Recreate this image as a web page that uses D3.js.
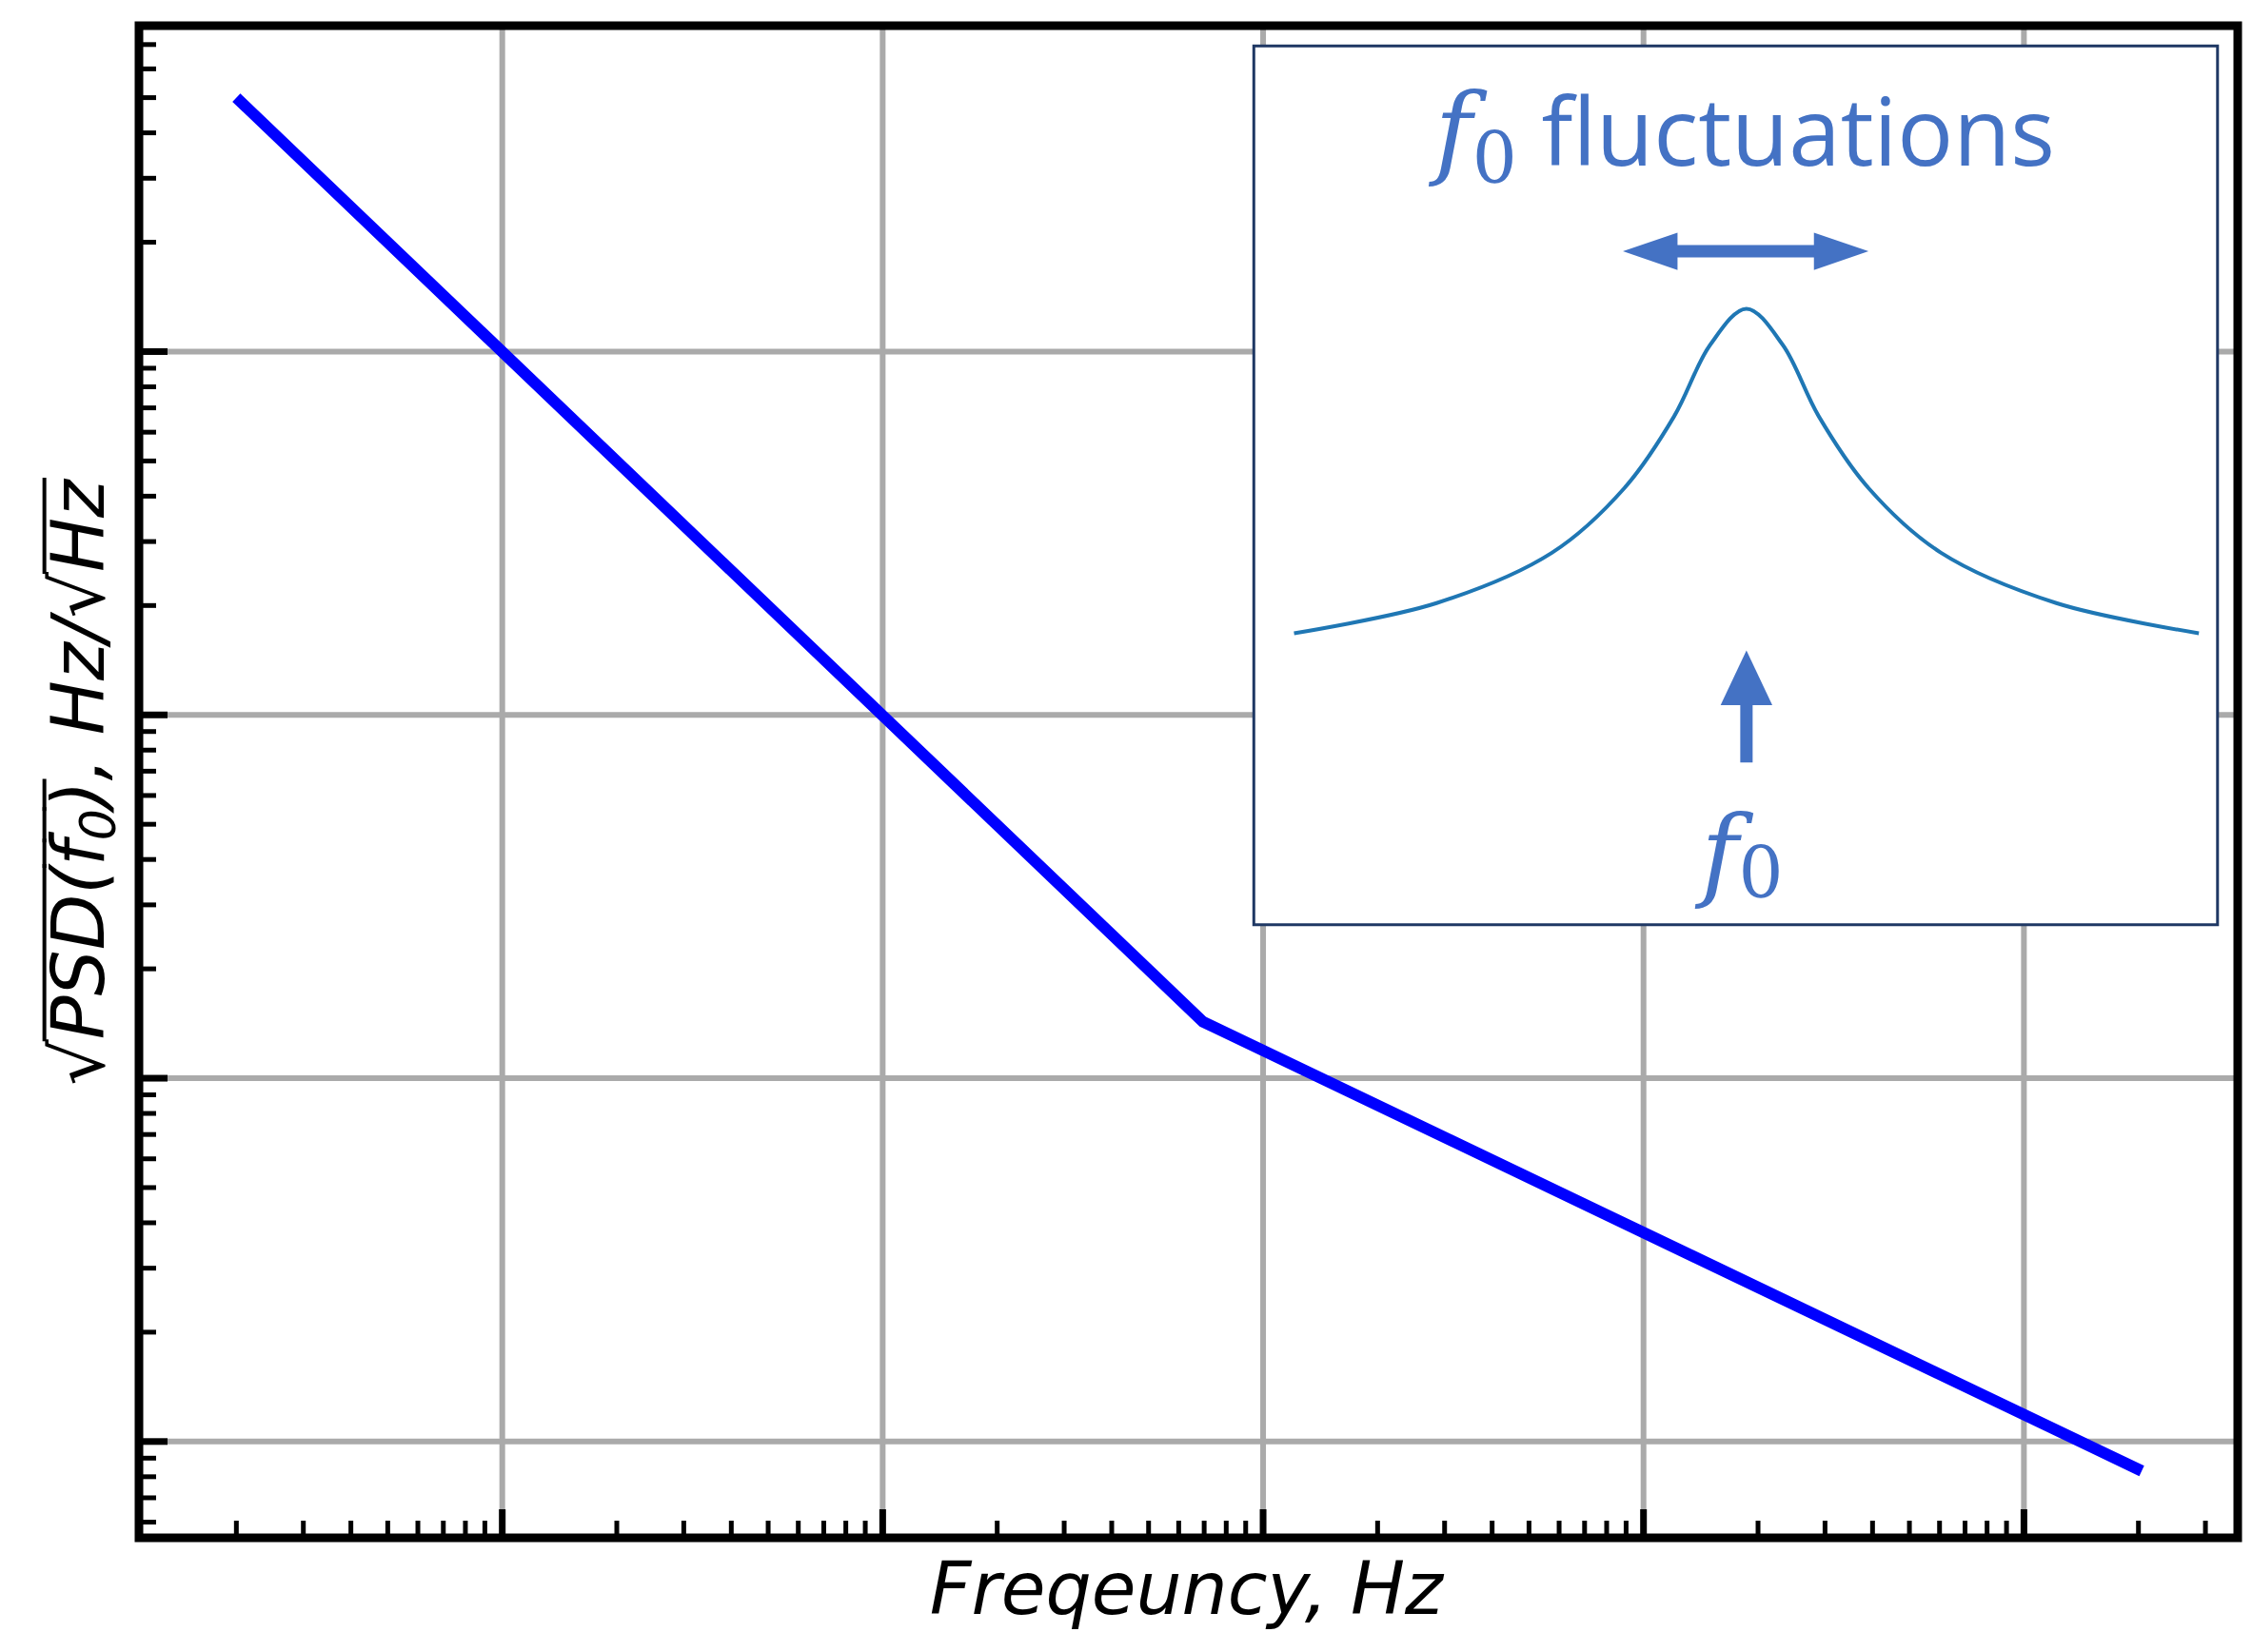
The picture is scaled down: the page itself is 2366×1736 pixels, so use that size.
<!DOCTYPE html>
<html><head><meta charset="utf-8">
<script src="https://cdn.jsdelivr.net/npm/d3@7"></script>
<style>body{margin:0;background:#fff}</style></head>
<body><svg id="c" width="2366" height="1736"></svg>
<script>
// Main series (log-log)
const freq = [0.2, 69.5, 20400];
const psd = [5000, 14.3, 0.83];
const xGrid = [1, 10, 100, 1000, 10000];
const yGrid = [1, 10, 100, 1000];
// Inset illustrative peak (relative units)
const insetX = [-1, -0.685, -0.43, -0.27, -0.16, -0.08, 0, 0.08, 0.16, 0.27, 0.43, 0.685, 1];
const insetY = [0.0, 0.093, 0.248, 0.447, 0.668, 0.889, 1.0, 0.889, 0.668, 0.447, 0.248, 0.093, 0.0];

const svg = d3.select("#c");
const L=146, R=2351, T=27, B=1616, k=2366/1568;
const x = d3.scaleLog().domain([Math.pow(10,-0.955), Math.pow(10,4.562)]).range([L,R]);
const y = d3.scaleLog().domain([Math.pow(10,-0.265), Math.pow(10,3.897)]).range([B,T]);

svg.selectAll(".gx").data(xGrid).join("line").attr("x1",d=>x(d)).attr("x2",d=>x(d)).attr("y1",T).attr("y2",B).attr("stroke","#aaa").attr("stroke-width",6);
svg.selectAll(".gy").data(yGrid).join("line").attr("y1",d=>y(d)).attr("y2",d=>y(d)).attr("x1",L).attr("x2",R).attr("stroke","#aaa").attr("stroke-width",6);

const xt=[], yt=[];
for(let e=-1;e<=4;e++) for(let m=1;m<=9;m++){const v=m*Math.pow(10,e); if(v>=x.domain()[0]&&v<=x.domain()[1]) xt.push([v,m===1]);}
for(let e=-1;e<=3;e++) for(let m=1;m<=9;m++){const v=m*Math.pow(10,e); if(v>=y.domain()[0]&&v<=y.domain()[1]) yt.push([v,m===1]);}
svg.selectAll(".tx").data(xt).join("line").attr("x1",d=>x(d[0])).attr("x2",d=>x(d[0])).attr("y1",B).attr("y2",d=>B-(d[1]?30:18)).attr("stroke","#000").attr("stroke-width",d=>d[1]?7:5);
svg.selectAll(".ty").data(yt).join("line").attr("y1",d=>y(d[0])).attr("y2",d=>y(d[0])).attr("x1",L).attr("x2",d=>L+(d[1]?30:18)).attr("stroke","#000").attr("stroke-width",d=>d[1]?7:5);

svg.append("path").datum(freq.map((f,i)=>[f,psd[i]]))
  .attr("d",d3.line().x(d=>x(d[0])).y(d=>y(d[1])))
  .attr("fill","none").attr("stroke","#0000ff").attr("stroke-width",12);

svg.append("rect").attr("x",L).attr("y",T).attr("width",R-L).attr("height",B-T).attr("fill","none").attr("stroke","#000").attr("stroke-width",9);

svg.append("text").attr("x",826*k).attr("y",1124*k).attr("text-anchor","middle")
  .attr("font-family","DejaVu Sans").attr("font-style","italic").attr("font-size",76).text("Freqeuncy, Hz");

// y label: manual layout in rotated group
const g = svg.append("g").attr("transform",`translate(${72*k},${545*k}) rotate(-90)`);
const pieces = [
  {t:"√", st:"normal", fs:76, dy:0, ol:false},
  {t:"PSD(", st:"italic", fs:76, dy:0, ol:true},
  {t:"f", st:"italic", fs:76, dy:0, ol:true},
  {t:"0", st:"italic", fs:52, dy:12, ol:true},
  {t:")", st:"italic", fs:76, dy:0, ol:true},
  {t:" , Hz/", st:"italic", fs:76, dy:0, ol:false},
  {t:"√", st:"normal", fs:76, dy:0, ol:false},
  {t:"Hz", st:"italic", fs:76, dy:0, ol:true},
];
let cx=0; const made=[];
pieces.forEach(p=>{
  const te=g.append("text").attr("x",cx).attr("y",p.dy).attr("font-family","DejaVu Sans").attr("font-style",p.st).attr("font-size",p.fs).text(p.t);
  const w=te.node().getComputedTextLength(); made.push({te,x0:cx,w,ol:p.ol}); cx+=w;
});
made.forEach(m=>m.te.attr("x",+m.te.attr("x")-cx/2));
made.filter(m=>m.ol).forEach(m=>g.append("line").attr("x1",m.x0-cx/2-2).attr("x2",m.x0+m.w-cx/2+2).attr("y1",-62).attr("y2",-62).attr("stroke","#000").attr("stroke-width",4));

// inset
const iL=873*k, iR=1544*k, iT=32*k, iB=644*k;
svg.append("rect").attr("x",iL).attr("y",iT).attr("width",iR-iL).attr("height",iB-iT).attr("fill","#fff").attr("stroke","#1f3864").attr("stroke-width",3);
const ix = d3.scaleLinear().domain([-1,1]).range([901*k,1531*k]);
const iy = d3.scaleLinear().domain([0,1]).range([441*k,215*k]);
svg.append("path").datum(insetX.map((v,i)=>[v,insetY[i]]))
  .attr("d",d3.line().x(d=>ix(d[0])).y(d=>iy(d[1])).curve(d3.curveCatmullRom.alpha(0.5)))
  .attr("fill","none").attr("stroke","#1f77b4").attr("stroke-width",4);
const blue="#4472c4";
const t1=svg.append("text").attr("x",1215*k).attr("y",115*k).attr("text-anchor","middle").attr("fill",blue).attr("font-size",98).attr("font-family","Open Sans");
t1.append("tspan").attr("font-family","DejaVu Serif").attr("font-style","italic").attr("font-size",106).text("f");
t1.append("tspan").attr("font-family","DejaVu Serif").attr("font-size",74).attr("dy",18).text("0");
t1.append("tspan").attr("dy",-18).text(" fluctuations");
const ay=175*k;
svg.append("line").attr("x1",1160*k).attr("x2",1270*k).attr("y1",ay).attr("y2",ay).attr("stroke",blue).attr("stroke-width",13);
svg.append("path").attr("d",`M${1130*k},${ay}L${1168*k},${ay-13*k}L${1168*k},${ay+13*k}Z`).attr("fill",blue);
svg.append("path").attr("d",`M${1301*k},${ay}L${1263*k},${ay-13*k}L${1263*k},${ay+13*k}Z`).attr("fill",blue);
const ax=1216*k;
svg.append("line").attr("x1",ax).attr("x2",ax).attr("y1",531*k).attr("y2",485*k).attr("stroke",blue).attr("stroke-width",13);
svg.append("path").attr("d",`M${ax},${453*k}L${ax-18*k},${491*k}L${ax+18*k},${491*k}Z`).attr("fill",blue);
const t2=svg.append("text").attr("x",1213*k).attr("y",618*k).attr("text-anchor","middle").attr("fill",blue).attr("font-family","DejaVu Serif");
t2.append("tspan").attr("font-style","italic").attr("font-size",106).text("f");
t2.append("tspan").attr("font-size",74).attr("dy",10).text("0");
</script></body></html>
